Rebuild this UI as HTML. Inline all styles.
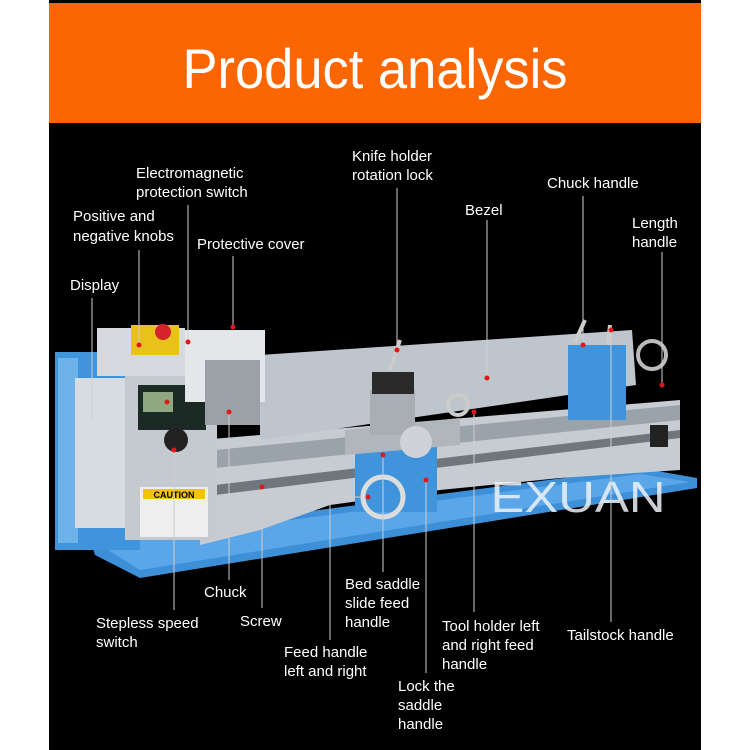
<!DOCTYPE html>
<html><head><meta charset="utf-8"><style>
html,body{margin:0;padding:0;background:#fff}
svg{display:block}
text{font-family:"Liberation Sans",sans-serif;fill:#fff}
.l{font-size:15px}
</style></head><body>
<svg width="750" height="750" viewBox="0 0 750 750" xmlns="http://www.w3.org/2000/svg">
<rect x="49" y="0" width="652" height="750" fill="#000"/>
<rect x="49" y="3" width="652" height="120" fill="#fb6502"/>
<text x="375" y="88" font-size="56" text-anchor="middle" textLength="385" lengthAdjust="spacingAndGlyphs">Product analysis</text>

<!-- base plate -->
<polygon points="90,540 640,468 697,478 697,488 140,578 95,555" fill="#3d8fd8"/>
<polygon points="100,545 640,474 690,482 140,570" fill="#5aa6e8"/>
<!-- bed body -->
<polygon points="200,440 680,400 680,470 560,478 440,490 330,505 260,530 200,545" fill="#c7ccd2"/>
<polygon points="215,450 680,405 680,420 215,468" fill="#9aa2aa"/>
<polygon points="215,485 680,430 680,438 215,495" fill="#6f767c"/>
<!-- back splash -->
<polygon points="260,355 632,330 636,385 260,440" fill="#bfc5cc"/>
<!-- headstock -->
<rect x="55" y="352" width="85" height="198" fill="#3f94dc"/>
<rect x="58" y="358" width="20" height="185" fill="#6eb2ea"/>
<rect x="75" y="378" width="55" height="150" fill="#d7dce2"/>
<rect x="125" y="375" width="92" height="165" fill="#c4cad0"/>
<rect x="138" y="385" width="68" height="45" fill="#1b2a25"/>
<rect x="143" y="392" width="30" height="20" fill="#8fa882"/>
<circle cx="176" cy="440" r="12" fill="#222"/>
<rect x="140" y="487" width="68" height="50" fill="#eee"/>
<rect x="143" y="489" width="62" height="10" fill="#f2c300"/>
<text x="174" y="498" font-size="9" fill="#000" style="fill:#000" text-anchor="middle" font-weight="bold">CAUTION</text>
<rect x="97" y="328" width="88" height="48" fill="#d6dadf"/>
<rect x="131" y="325" width="48" height="30" fill="#e8c21a"/>
<circle cx="163" cy="332" r="8" fill="#d4232a"/>
<rect x="185" y="330" width="80" height="72" fill="#e4e7ea"/>
<rect x="205" y="360" width="55" height="65" fill="#9ba1a7"/>
<!-- carriage -->
<rect x="355" y="440" width="82" height="72" fill="#3f94dc"/>
<polygon points="345,430 460,418 460,445 345,455" fill="#b0b6bc"/>
<rect x="370" y="390" width="45" height="45" fill="#a8aeb4"/>
<rect x="372" y="372" width="42" height="22" fill="#2a2a2a"/>
<line x1="390" y1="370" x2="400" y2="340" stroke="#ccc" stroke-width="4"/>
<circle cx="383" cy="497" r="20" fill="none" stroke="#ddd" stroke-width="5"/>
<circle cx="416" cy="442" r="16" fill="#cfd3d7"/>
<circle cx="458" cy="405" r="10" fill="none" stroke="#ccc" stroke-width="4"/>
<!-- tailstock -->
<rect x="568" y="345" width="58" height="75" fill="#3f94dc"/>
<line x1="575" y1="342" x2="585" y2="320" stroke="#ccc" stroke-width="4"/>
<line x1="608" y1="345" x2="610" y2="325" stroke="#ccc" stroke-width="4"/>
<circle cx="652" cy="355" r="14" fill="none" stroke="#bbb" stroke-width="4"/>
<rect x="650" y="425" width="18" height="22" fill="#222"/>
<text x="578" y="512" font-size="44" text-anchor="middle" fill-opacity="0.85" style="fill:#eef2f8" textLength="175" lengthAdjust="spacingAndGlyphs">EXUAN</text>

<!-- leader lines -->
<g stroke="#cfcfcf" stroke-width="1" fill="none">
<line x1="188" y1="205" x2="188" y2="342"/>
<line x1="397" y1="188" x2="397" y2="350"/>
<line x1="583" y1="196" x2="583" y2="345"/>
<line x1="487" y1="220" x2="487" y2="378"/>
<line x1="662" y1="252" x2="662" y2="385"/>
<line x1="139" y1="250" x2="139" y2="345"/>
<line x1="233" y1="256" x2="233" y2="327"/>
<line x1="92" y1="298" x2="92" y2="420"/>
<line x1="229" y1="580" x2="229" y2="412"/>
<line x1="174" y1="610" x2="174" y2="450"/>
<line x1="262" y1="608" x2="262" y2="487"/>
<polyline points="330,640 330,497 368,497"/>
<line x1="383" y1="572" x2="383" y2="455"/>
<line x1="426" y1="673" x2="426" y2="480"/>
<line x1="474" y1="612" x2="474" y2="412"/>
<line x1="611" y1="622" x2="611" y2="330"/>
</g>
<g fill="#e01818">
<circle cx="188" cy="342" r="2.5"/><circle cx="397" cy="350" r="2.5"/><circle cx="583" cy="345" r="2.5"/>
<circle cx="487" cy="378" r="2.5"/><circle cx="662" cy="385" r="2.5"/><circle cx="139" cy="345" r="2.5"/>
<circle cx="233" cy="327" r="2.5"/><circle cx="229" cy="412" r="2.5"/><circle cx="174" cy="450" r="2.5"/>
<circle cx="262" cy="487" r="2.5"/><circle cx="368" cy="497" r="2.5"/><circle cx="383" cy="455" r="2.5"/>
<circle cx="426" cy="480" r="2.5"/><circle cx="474" cy="412" r="2.5"/><circle cx="611" cy="330" r="2.5"/>
<circle cx="167" cy="402" r="2.5"/>
</g>

<g class="l">
<text x="136" y="178">Electromagnetic</text>
<text x="136" y="197">protection switch</text>
<text x="352" y="161">Knife holder</text>
<text x="352" y="180">rotation lock</text>
<text x="547" y="188">Chuck handle</text>
<text x="465" y="215">Bezel</text>
<text x="632" y="228">Length</text>
<text x="632" y="247">handle</text>
<text x="73" y="221">Positive and</text>
<text x="73" y="241">negative knobs</text>
<text x="197" y="249">Protective cover</text>
<text x="70" y="290">Display</text>
<text x="204" y="597">Chuck</text>
<text x="96" y="628">Stepless speed</text>
<text x="96" y="647">switch</text>
<text x="240" y="626">Screw</text>
<text x="284" y="657">Feed handle</text>
<text x="284" y="676">left and right</text>
<text x="345" y="589">Bed saddle</text>
<text x="345" y="608">slide feed</text>
<text x="345" y="627">handle</text>
<text x="398" y="691">Lock the</text>
<text x="398" y="710">saddle</text>
<text x="398" y="729">handle</text>
<text x="442" y="631">Tool holder left</text>
<text x="442" y="650">and right feed</text>
<text x="442" y="669">handle</text>
<text x="567" y="640">Tailstock handle</text>
</g>
</svg>
</body></html>
